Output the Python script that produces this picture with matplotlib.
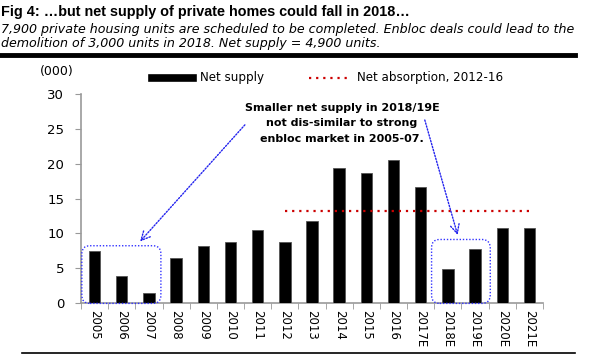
import matplotlib
matplotlib.use("Agg")
import matplotlib.pyplot as plt
from matplotlib.patches import FancyBboxPatch
from matplotlib.lines import Line2D
import numpy as np

years = ["2005", "2006", "2007", "2008", "2009", "2010", "2011", "2012", "2013",
         "2014", "2015", "2016", "2017E", "2018E", "2019E", "2020E", "2021E"]
net_supply = [7.4, 3.9, 1.4, 6.4, 8.2, 8.7, 10.5, 8.8, 11.7,
              19.4, 18.6, 20.6, 16.6, 4.9, 7.7, 10.8, 10.8]
net_absorption = 13.2
absorption_start = "2012"
absorption_end = "2021E"
yticks = [0, 5, 10, 15, 20, 25, 30]

W, H = 600, 360
fig = plt.figure(figsize=(6, 3.6), dpi=100)
plt.rcParams['font.family'] = ['DejaVu Sans']

def fx(x): return x / W
def fy(y): return 1 - y / H

# Titles
fig.text(fx(1), fy(12), "Fig 4: \u2026but net supply of private homes could fall in 2018\u2026",
         fontsize=10.4, fontweight='bold', va='center', ha='left', family='Liberation Sans')
fig.text(fx(1), fy(29), "7,900 private housing units are scheduled to be completed. Enbloc deals could lead to the",
         fontsize=9.1, style='italic', va='center', ha='left')
fig.text(fx(1), fy(44), "demolition of 3,000 units in 2018. Net supply = 4,900 units.",
         fontsize=9.1, style='italic', va='center', ha='left')
fig.add_artist(Line2D([fx(0), fx(575)], [fy(55), fy(55)], color='black', lw=3.5, transform=fig.transFigure))
fig.add_artist(Line2D([fx(22), fx(575)], [fy(353), fy(353)], color='black', lw=1.2, transform=fig.transFigure))

# Axes
ax = fig.add_axes([fx(81), 1 - 302.7 / H, 462 / W, 208.4 / H])
x = np.arange(len(years))
ax.bar(x, net_supply, width=0.42, color='black', edgecolor='#555555', linewidth=0.6, zorder=3)
i0, i1 = years.index(absorption_start), years.index(absorption_end)
ax.plot([i0, i1], [net_absorption, net_absorption], color='#cc0000', lw=1.6,
        linestyle=(0, (1, 2.2)), zorder=4)

ax.set_xlim(-0.5, len(years) - 0.5)
ax.set_ylim(0, 30)
ax.set_yticks(yticks)
ax.set_yticklabels([str(t) for t in yticks], fontsize=9.5)
ax.set_xticks(x)
ax.set_xticklabels(years, rotation=-90, fontsize=8.5, va='top', ha='center')
ax.set_xticks(np.arange(-0.5, len(years), 1), minor=True)
ax.tick_params(axis='x', which='major', length=0, pad=5)
ax.tick_params(axis='x', which='minor', length=4, color='#999999')
ax.tick_params(axis='y', length=4, color='#999999', pad=8)
for s in ['top', 'right']:
    ax.spines[s].set_visible(False)
for s in ['left', 'bottom']:
    ax.spines[s].set_color('#999999')
    ax.spines[s].set_linewidth(1.2)

# Boxes
for (x0, x1, y1) in [(-0.47, 2.44, 8.2), (12.4, 14.56, 9.1)]:
    box = FancyBboxPatch((x0, -0.1), x1 - x0, y1 + 0.1,
                         boxstyle="round,pad=0,rounding_size=0.3",
                         fill=False, edgecolor='#3333ff', linestyle=(0, (1, 1.3)),
                         lw=1.0, mutation_aspect=4, zorder=5, clip_on=False)
    ax.add_patch(box)

# Arrows
for (sx, sy, ex, ey) in [(5.53, 25.6, 1.67, 8.8), (12.15, 26.3, 13.36, 9.75)]:
    ax.annotate("", xy=(ex, ey), xytext=(sx, sy),
                arrowprops=dict(arrowstyle='->', color='#2222ee', lw=1.0,
                                linestyle=(0, (1, 1.2)), mutation_scale=16,
                                shrinkA=0, shrinkB=0),
                zorder=6, annotation_clip=False)

# Annotation text
for yy, t in [(108, "Smaller net supply in 2018/19E"), (123.5, "not dis-similar to strong"),
              (138.5, "enbloc market in 2005-07.")]:
    fig.text(fx(342), fy(yy), t, fontsize=8.0, fontweight='bold', ha='center', va='center')

# y unit label
fig.text(fx(57), fy(72), "(000)", fontsize=9, ha='center', va='center')

# Legend
fig.add_artist(Line2D([fx(152), fx(193)], [fy(78), fy(78)], color='black', lw=5.5, transform=fig.transFigure))
fig.text(fx(200), fy(78), "Net supply", fontsize=8.6, ha='left', va='center')
fig.add_artist(Line2D([fx(309), fx(350)], [fy(78), fy(78)], color='#cc0000', lw=1.6,
                      linestyle=(0, (1, 2.2)), transform=fig.transFigure))
fig.text(fx(357), fy(78), "Net absorption, 2012-16", fontsize=8.6, ha='left', va='center')

fig.savefig("out.png", dpi=100)
